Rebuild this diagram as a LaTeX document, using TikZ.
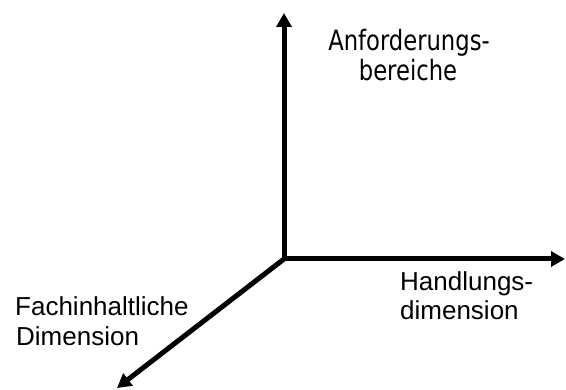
\documentclass[tikz,border=0pt]{standalone}
\usepackage{fontspec}
\setmainfont{Liberation Sans}
\newfontfamily\topfont{DejaVu Sans}
\usetikzlibrary{arrows.meta}
\begin{document}
\begin{tikzpicture}[x=1pt,y=1pt,
  axis/.style={line width=5pt,-{Triangle[length=14pt,width=15pt]}},
  lbl/.style={inner sep=0pt,font=\fontsize{26}{30}\selectfont},
  toplbl/.style={inner sep=0pt,font=\topfont\fontsize{28}{30}\selectfont,xscale=0.81,transform shape}]
\useasboundingbox (0,0) rectangle (566,389);
\coordinate (O) at (284,130);
\coordinate (U) at (284,376);
\coordinate (R) at (565,130);
\coordinate (D) at (117,1);
\draw[axis] (O) -- (U);
\draw[axis] (O) -- (R);
\draw[axis] (O) -- (D);
\node[toplbl,anchor=base] (a1) at (409,338) {Anforderungs-};
\node[toplbl,anchor=base] (a2) at (408,308) {bereiche};
\node[lbl,anchor=base west] (h1) at (400,99) {Handlungs-};
\node[lbl,anchor=base west] (h2) at (400,69) {dimension};
\node[lbl,anchor=base west] (f1) at (15,74) {Fachinhaltliche};
\node[lbl,anchor=base west] (f2) at (16,44) {Dimension};
\end{tikzpicture}
\end{document}
